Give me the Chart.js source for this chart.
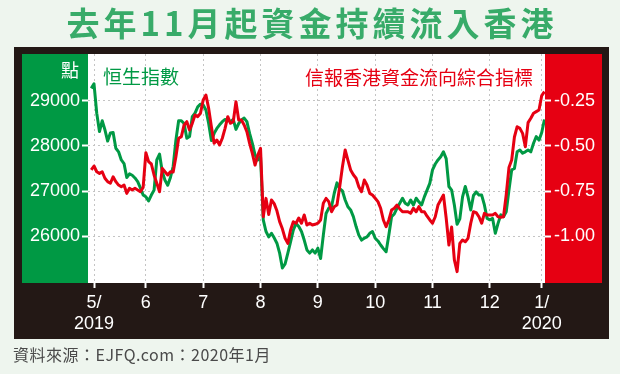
<!DOCTYPE html>
<html>
<head>
<meta charset="UTF-8">
<title>去年11月起資金持續流入香港</title>
<script src="https://cdn.jsdelivr.net/npm/chart.js@4.4.0/dist/chart.umd.min.js"></script>
<style>
  html, body { margin: 0; padding: 0; background: #eef5ee; }
  canvas { display: block; }
</style>
</head>
<body>
<canvas id="chart" width="620" height="374"></canvas>
<script>
const title = '去年11月起資金持續流入香港';
const source = '資料來源：EJFQ.com：2020年1月';
const hsiName = '恒生指數';
const flowName = '信報香港資金流向綜合指標';
const unitLabel = '點';

// x = trading day index, 0 = first trading day of May 2019
const firstDay = -1;
const monthTickDays = [0, 19, 40, 61, 82, 103, 124, 145, 164];
const monthTickLabels = [['5/', '2019'], '6', '7', '8', '9', '10', '11', '12', ['1/', '2020']];
const hsiTicks = [26000, 27000, 28000, 29000];
const flowTicks = [-1.00, -0.75, -0.50, -0.25];

// 恒生指數, one value per trading day from firstDay
const hsiValues = [
  29280, 29380, 28730, 28320, 28560, 28360, 28110, 28290, 28300, 27950,
  27870, 27690, 27610, 27300, 27380, 27350, 27290, 27210, 27070, 26910,
  26870, 26780, 26910, 27020, 27690, 27820, 27430, 27240, 27130, 27300,
  27550, 28130, 28560, 28560, 28500, 28170, 28210, 28650, 28730, 28870,
  28930, 28910, 28800, 28500, 28120, 28280, 28390, 28470, 28540, 28590,
  28580, 28540, 28590, 28370, 28500, 28580, 28620, 28540, 28280, 28060,
  27800, 27690, 27760, 26360, 26100, 25980, 26060, 25960, 25840, 25620,
  25290, 25380, 25620, 25870, 26130, 26280, 26210, 26100, 25910, 25690,
  25620, 25690, 25620, 25730, 25500, 26020, 26500, 26620, 26650, 26950,
  27180, 27050, 27000, 26800, 26650, 26580, 26430, 26210, 26020, 25910,
  25950, 25980, 26060, 26100, 25950, 25890, 25800, 25720, 25650, 26020,
  26430, 26490, 26620, 26730, 26840, 26730, 26690, 26800, 26690, 26840,
  26760, 26690, 26870, 27020, 27170, 27470, 27600, 27690, 27760, 27870,
  27720, 27100, 27020, 26690, 26260, 26380, 26870, 27100, 26870, 26580,
  26900, 26980, 26910, 26910, 26690, 26390, 26360, 26390, 26060, 26280,
  26470, 26430, 26540, 27020, 27470, 27500, 27870, 27910, 27840, 27870,
  27910, 27870, 28060, 28210, 28130, 28300, 28590
];

// 信報香港資金流向綜合指標, same days
const flowValues = [
  -0.633, -0.611, -0.643, -0.652, -0.643, -0.679, -0.698, -0.707, -0.671, -0.698,
  -0.717, -0.726, -0.717, -0.763, -0.735, -0.744, -0.735, -0.744, -0.754, -0.730,
  -0.537, -0.587, -0.600, -0.661, -0.707, -0.754, -0.624, -0.643, -0.661, -0.643,
  -0.645, -0.560, -0.457, -0.448, -0.383, -0.365, -0.411, -0.374, -0.328, -0.337,
  -0.318, -0.244, -0.217, -0.291, -0.393, -0.485, -0.467, -0.494, -0.457, -0.402,
  -0.337, -0.374, -0.365, -0.254, -0.356, -0.356, -0.383, -0.421, -0.485, -0.541,
  -0.606, -0.550, -0.513, -0.893, -0.791, -0.880, -0.800, -0.820, -0.860, -0.920,
  -0.960, -1.013, -1.041, -0.967, -0.921, -0.929, -0.900, -0.929, -0.883, -0.939,
  -0.929, -0.939, -0.935, -0.929, -0.911, -0.818, -0.791, -0.809, -0.865, -0.837,
  -0.828, -0.726, -0.615, -0.522, -0.578, -0.633, -0.660, -0.679, -0.726, -0.754,
  -0.689, -0.717, -0.763, -0.772, -0.790, -0.809, -0.846, -0.911, -0.948, -0.911,
  -0.856, -0.846, -0.828, -0.850, -0.865, -0.865, -0.865, -0.874, -0.846, -0.865,
  -0.837, -0.865, -0.865, -0.890, -0.911, -0.929, -0.893, -0.828, -0.800, -0.772,
  -0.900, -1.050, -0.950, -1.133, -1.198, -1.041, -1.022, -1.032, -1.013, -0.929,
  -0.865, -0.870, -0.893, -0.929, -0.874, -0.883, -0.883, -0.883, -0.874, -0.893,
  -0.896, -0.893, -0.770, -0.620, -0.578, -0.450, -0.393, -0.402, -0.430, -0.504,
  -0.370, -0.346, -0.318, -0.309, -0.300, -0.220, -0.198
];

const GREEN = '#009944';
const RED = '#e60012';
const tickFont = { family: '"Liberation Sans", Arial, sans-serif', size: 18 };

// panels, frame and texts around the plot
const frame = {
  id: 'frame',
  beforeDraw(chart) {
    const { ctx, chartArea: a } = chart;
    ctx.save();
    ctx.fillStyle = '#eef5ee';
    ctx.fillRect(0, 0, chart.width, chart.height);
    ctx.fillStyle = '#231815';
    ctx.fillRect(14, 47, 595, 292);
    ctx.fillStyle = GREEN;
    ctx.fillRect(22, a.top, a.left - 22, a.bottom - a.top);
    ctx.fillStyle = RED;
    ctx.fillRect(a.right, a.top, 602 - a.right, a.bottom - a.top);
    ctx.fillStyle = '#ffffff';
    ctx.fillRect(a.left, a.top, a.right - a.left, a.bottom - a.top);
    ctx.restore();
  },
  afterDraw(chart) {
    const { ctx } = chart;
    ctx.save();
    ctx.textBaseline = 'middle';

    ctx.fillStyle = '#38ab69';
    ctx.font = 'bold 33px "Noto Sans CJK TC"';
    ctx.textAlign = 'center';
    if ('letterSpacing' in ctx) ctx.letterSpacing = '4px';
    ctx.fillText(title, 312, 23);
    if ('letterSpacing' in ctx) ctx.letterSpacing = '0px';

    ctx.font = '18px "Noto Sans CJK TC"';
    ctx.fillStyle = '#ffffff';
    ctx.textAlign = 'right';
    ctx.fillText(unitLabel, 79, 70);

    ctx.font = '19px "Noto Sans CJK TC"';
    ctx.textAlign = 'left';
    ctx.fillStyle = GREEN;
    ctx.fillText(hsiName, 103, 77);
    ctx.textAlign = 'right';
    ctx.fillStyle = RED;
    ctx.fillText(flowName, 533, 78);

    ctx.font = '16px "Noto Sans CJK TC"';
    ctx.textAlign = 'left';
    ctx.fillStyle = '#4a4a4a';
    if ('letterSpacing' in ctx) ctx.letterSpacing = '0.5px';
    ctx.fillText(source, 13, 355);
    ctx.restore();
  }
};

const toPoints = vals => vals.map((v, i) => ({ x: firstDay + i, y: v }));

new Chart(document.getElementById('chart'), {
  type: 'line',
  data: {
    datasets: [
      {
        label: flowName,
        data: toPoints(flowValues),
        yAxisID: 'flow',
        borderColor: RED,
        borderWidth: 3,
        pointRadius: 0,
        borderJoinStyle: 'round',
        order: 0
      },
      {
        label: hsiName,
        data: toPoints(hsiValues),
        yAxisID: 'hsi',
        borderColor: GREEN,
        borderWidth: 3,
        pointRadius: 0,
        borderJoinStyle: 'round',
        order: 1
      }
    ]
  },
  options: {
    responsive: false,
    animation: false,
    devicePixelRatio: 1,
    layout: { padding: { top: 54, left: 0, right: 0, bottom: 0 } },
    plugins: {
      legend: { display: false },
      title: { display: false },
      tooltip: { enabled: false }
    },
    scales: {
      x: {
        type: 'linear',
        min: -2.2,
        max: 165.2,
        afterBuildTicks: s => { s.ticks = monthTickDays.map(v => ({ value: v })); },
        afterFit: s => { s.height = 91; },
        ticks: {
          autoSkip: false,
          maxRotation: 0,
          color: '#ffffff',
          font: tickFont,
          padding: 4,
          callback: (v, i) => monthTickLabels[i]
        },
        grid: {
          color: '#c4c4c4',
          lineWidth: 1,
          tickLength: 5,
          tickColor: '#ffffff',
          tickWidth: 2,
          tickBorderDash: []
        },
        border: { display: false, dash: [2, 3] }
      },
      hsi: {
        type: 'linear',
        position: 'left',
        min: 24956,
        max: 30044,
        afterBuildTicks: s => { s.ticks = hsiTicks.map(v => ({ value: v })); },
        afterFit: s => { s.width = 88; },
        ticks: {
          color: '#ffffff',
          font: tickFont,
          padding: 2,
          callback: v => String(v)
        },
        grid: {
          color: '#c4c4c4',
          lineWidth: 1,
          tickLength: 6,
          tickColor: '#ffffff',
          tickWidth: 2,
          tickBorderDash: []
        },
        border: { display: false, dash: [2, 3] }
      },
      flow: {
        type: 'linear',
        position: 'right',
        min: -1.261,
        max: 0.011,
        afterBuildTicks: s => { s.ticks = flowTicks.map(v => ({ value: v })); },
        afterFit: s => { s.width = 75; },
        ticks: {
          color: '#ffffff',
          font: tickFont,
          padding: 3,
          callback: v => v.toFixed(2)
        },
        grid: {
          drawOnChartArea: false,
          tickLength: 6,
          tickColor: '#ffffff',
          tickWidth: 2
        },
        border: { display: false }
      }
    }
  },
  plugins: [frame]
});
</script>
</body>
</html>
